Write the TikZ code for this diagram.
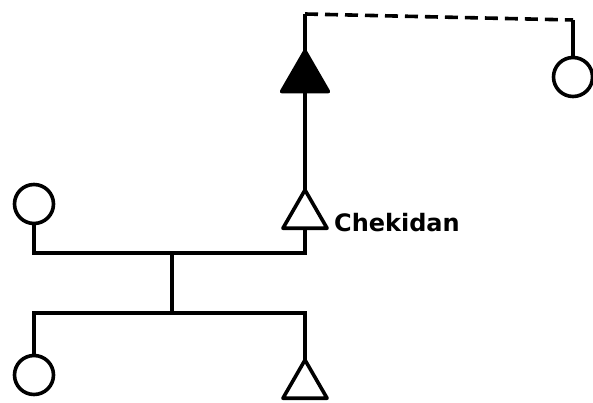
\documentclass[tikz,border=0pt]{standalone}
\usepackage{fontspec}
\newfontfamily\handfont{DejaVu Sans}
\usetikzlibrary{shapes.geometric, positioning}

\begin{document}
\begin{tikzpicture}[x=1pt, y=-1pt, line width=3.6pt,
    female/.style={circle, draw, minimum size=39pt, inner sep=0pt, outer sep=0pt},
    male/.style={regular polygon, regular polygon sides=3, draw, minimum size=51pt,
       inner sep=0pt, outer sep=0pt, line join=round, anchor=corner 1}]
    \useasboundingbox (0,0) rectangle (593,403);
    % Dark male and the woman on the right
    \node[male, fill=black, minimum size=54pt] (dark) at (305,51) {};
    \node[female] (farwoman) at (573,77) {};
    \coordinate (topleft) at (305,14);
    \coordinate (topright) at (573,20);
    \draw (dark.corner 1) -- (topleft);
    \draw[dash pattern=on 13pt off 7pt] (topleft) -- (topright);
    \draw (topright) -- (farwoman.north);
    % Chekidan
    \node[male] (chekidan) at (305,190) {};
    \node[anchor=base west, font=\handfont\bfseries\fontsize{24}{28}\selectfont] (name)
       at (329,231) {Chekidan};
    \draw (dark.south) -- (chekidan.corner 1);
    % Upper sibling line
    \node[female] (mother) at (34,204) {};
    \coordinate (upleft) at (34,253);
    \draw (chekidan.south) |- (upleft) -- (mother.south);
    % Link between the two lines
    \coordinate (midtop) at (172,253);
    \coordinate (midbot) at (172,313);
    \draw (midtop) -- (midbot);
    % Lower sibling line
    \node[female] (sister) at (34,375) {};
    \node[male] (brother) at (305,360) {};
    \coordinate (lowright) at (305,313);
    \draw (sister.north) |- (lowright) -- (brother.corner 1);
\end{tikzpicture}
\end{document}
